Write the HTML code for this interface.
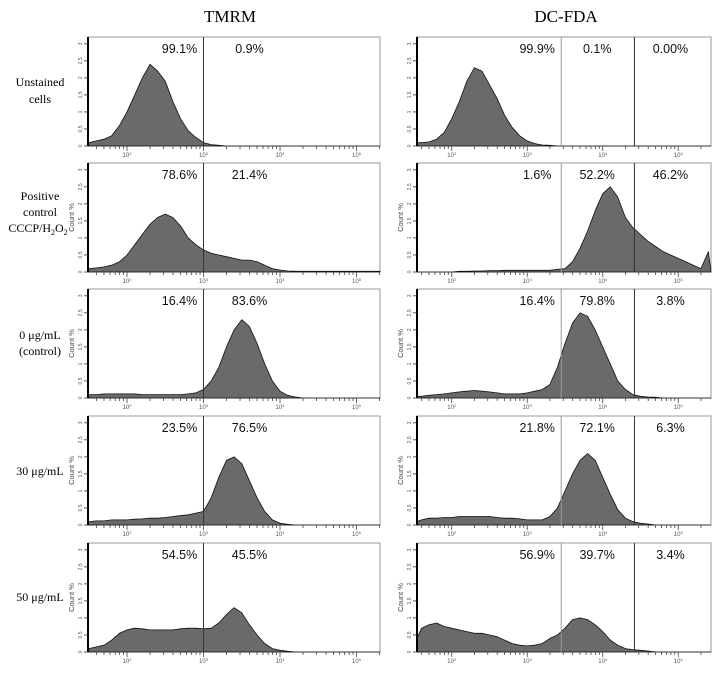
<!DOCTYPE html>
<html><head><meta charset="utf-8"><style>
html,body{margin:0;padding:0;background:#fff;}
svg{display:block;}
</style></head><body>
<svg id="fig" width="715" height="675" viewBox="0 0 715 675" xmlns="http://www.w3.org/2000/svg">
<text x="230" y="22" text-anchor="middle" font-family="Liberation Serif, serif" font-size="17">TMRM</text>
<text x="566" y="22" text-anchor="middle" font-family="Liberation Serif, serif" font-size="17">DC-FDA</text>
<g font-family="Liberation Serif, serif" font-size="12" text-anchor="middle">
<text x="40" y="86">Unstained</text>
<text x="40" y="103">cells</text>
<text x="40" y="200">Positive</text>
<text x="40" y="216">control</text>
<text x="38" y="232">CCCP/H<tspan font-size="8" dy="3">2</tspan><tspan dy="-3">O</tspan><tspan font-size="8" dy="3">2</tspan></text>
<text x="40" y="339">0 μg/mL</text>
<text x="40" y="355">(control)</text>
<text x="40" y="475">30 μg/mL</text>
<text x="40" y="601">50 μg/mL</text>
</g>
</svg>
<script>
// bins: log10 fluorescence from 1.5 to 5.4, step 0.1
const binStart = 1.5, binStep = 0.1;
const tmrmUnstained = [0.1,0.15,0.2,0.3,0.6,1.0,1.5,2.0,2.4,2.2,1.9,1.3,0.8,0.45,0.25,0.1,0.04,0.02,0,0,0,0,0,0,0,0,0,0,0,0,0,0,0,0,0,0,0,0,0,0];
const tmrmPositive = [0.1,0.12,0.15,0.2,0.3,0.5,0.8,1.1,1.4,1.6,1.7,1.6,1.35,1.0,0.8,0.65,0.55,0.5,0.45,0.4,0.35,0.35,0.3,0.2,0.1,0.06,0.03,0.02,0.02,0.02,0.02,0.02,0.02,0.02,0.02,0.02,0.02,0.02,0.02,0.02];
const tmrmControl = [0.1,0.1,0.12,0.12,0.12,0.12,0.12,0.1,0.1,0.1,0.1,0.1,0.1,0.12,0.15,0.25,0.5,0.9,1.5,2.0,2.3,2.1,1.6,1.0,0.5,0.2,0.08,0.03,0,0,0,0,0,0,0,0,0,0,0,0];
const tmrm30 = [0.1,0.12,0.12,0.15,0.15,0.15,0.17,0.18,0.2,0.2,0.22,0.25,0.28,0.3,0.35,0.4,0.8,1.4,1.9,2.0,1.8,1.3,0.8,0.4,0.15,0.05,0.02,0,0,0,0,0,0,0,0,0,0,0,0,0];
const tmrm50 = [0.1,0.15,0.2,0.35,0.55,0.65,0.7,0.68,0.65,0.65,0.65,0.65,0.68,0.7,0.7,0.68,0.7,0.85,1.1,1.3,1.15,0.8,0.5,0.25,0.1,0.05,0.02,0,0,0,0,0,0,0,0,0,0,0,0,0];
const dcUnstained = [0.1,0.1,0.12,0.2,0.4,0.8,1.3,1.9,2.3,2.2,1.8,1.4,0.9,0.55,0.3,0.15,0.07,0.03,0.02,0,0,0,0,0,0,0,0,0,0,0,0,0,0,0,0,0,0,0,0,0];
const dcPositive = [0,0,0,0,0,0,0.02,0.02,0.03,0.03,0.04,0.04,0.05,0.05,0.05,0.05,0.05,0.05,0.05,0.08,0.1,0.3,0.7,1.2,1.8,2.3,2.5,2.2,1.6,1.3,1.1,0.9,0.75,0.6,0.5,0.4,0.3,0.2,0.1,0.6];
const dcControl = [0.05,0.05,0.08,0.1,0.12,0.15,0.18,0.2,0.22,0.2,0.18,0.15,0.12,0.12,0.12,0.15,0.2,0.25,0.4,0.9,1.6,2.2,2.5,2.4,2.0,1.5,1.0,0.5,0.25,0.1,0.05,0.03,0.02,0,0,0,0,0,0,0];
const dc30 = [0.1,0.15,0.2,0.2,0.22,0.22,0.25,0.25,0.25,0.25,0.25,0.22,0.2,0.2,0.18,0.15,0.15,0.15,0.25,0.5,1.0,1.5,1.9,2.1,1.9,1.4,0.9,0.45,0.2,0.1,0.05,0.03,0,0,0,0,0,0,0,0];
const dc50 = [0.4,0.7,0.8,0.85,0.75,0.7,0.65,0.6,0.55,0.55,0.5,0.45,0.35,0.25,0.2,0.18,0.2,0.25,0.4,0.5,0.7,0.95,1.0,0.95,0.8,0.6,0.35,0.2,0.1,0.07,0.05,0.03,0,0,0,0,0,0,0,0];
const tmrmSeries = [tmrmUnstained, tmrmPositive, tmrmControl, tmrm30, tmrm50];
const dcSeries = [dcUnstained, dcPositive, dcControl, dc30, dc50];
const tmrmLabels = [["99.1%","0.9%"],["78.6%","21.4%"],["16.4%","83.6%"],["23.5%","76.5%"],["54.5%","45.5%"]];
const dcLabels = [["99.9%","0.1%","0.00%"],["1.6%","52.2%","46.2%"],["16.4%","79.8%","3.8%"],["21.8%","72.1%","6.3%"],["56.9%","39.7%","3.4%"]];
const tmrmGates = [3.0];
const dcGates = [3.45, 4.42];
const yTicks = [0,0.5,1,1.5,2,2.5,3];
const xDecades = [2,3,4,5];

const NS = "http://www.w3.org/2000/svg";
const svg = document.getElementById('fig');
function mk(tag, attrs, parent){const e=document.createElementNS(NS,tag);for(const k in attrs)e.setAttribute(k,attrs[k]);(parent||svg).appendChild(e);return e;}

const rowTops = [37,163,289,416,543];
const H = 109, yMax = 3.2;
const panels = [
  {x0:88, x1:380, logMin:1.49, pxPerDec:76.5, series:tmrmSeries, labels:tmrmLabels, gates:tmrmGates, name:'tmrm'},
  {x0:417, x1:711, logMin:1.54, pxPerDec:75.5, series:dcSeries, labels:dcLabels, gates:dcGates, name:'dcfda'}
];

panels.forEach(p=>{
  const xs = v => p.x0 + (v - p.logMin)*p.pxPerDec;
  const logMax = p.logMin + (p.x1-p.x0)/p.pxPerDec;
  rowTops.forEach((top,r)=>{
    const base = top + H;
    const ys = v => base - v/yMax*H;
    const g = mk('g',{});
    
    
    const fr = mk('rect',{x:p.x0,y:top,width:p.x1-p.x0,height:H,fill:'none',stroke:'#9a9a9a','stroke-width':1},g);
    
    
    const data = p.series[r];
    let d = 'M'+p.x0+','+base;
    data.forEach((v,i)=>{
      let lv = binStart + i*binStep;
      if (lv > logMax) lv = logMax;
      d += ' L'+xs(Math.max(lv,p.logMin)).toFixed(1)+','+ys(v).toFixed(1);
    });
    d += ' L'+p.x1+','+base+' Z';
    const h = mk('path',{d:d,fill:'#6a6a6a',stroke:'#111','stroke-width':0.8,'stroke-linejoin':'round'},g);
    
    
    p.gates.forEach((gv,gi)=>{
      const gl = mk('line',{x1:xs(gv),x2:xs(gv),y1:top,y2:base,stroke: p.name==='dcfda'&&gi===0?'#999':'#333','stroke-width':1},g);
      
      
    });
    p.labels[r].forEach((t,li)=>{
      let cx;
      if (li===0) cx = xs(p.gates[0]) - 24;
      else if (p.name==='tmrm') cx = xs(p.gates[0]) + 46;
      else cx = xs(p.gates[li-1]) + 36;
      const tx = mk('text',{x:cx,y:top+16,'text-anchor':'middle','font-family':'Liberation Sans, sans-serif','font-size':12.5,fill:'#111'},g);
      tx.textContent = t;
      
      
    });
    const ax = mk('line',{x1:p.x0,x2:p.x0,y1:top,y2:base,stroke:'#000','stroke-width':2},g);
    
    
    yTicks.forEach(t=>{
      const y = ys(t);
      const tk = mk('line',{x1:p.x0-4,x2:p.x0,y1:y,y2:y,stroke:'#333','stroke-width':0.8},g);
      
      
      const lb = mk('text',{x:p.x0-6,y:y,'font-family':'Liberation Sans, sans-serif','font-size':5,fill:'#555','text-anchor':'middle',transform:'rotate(-90 '+(p.x0-6)+' '+y+')'},g);
      lb.textContent = String(t).replace('.',',');
      
      
    });
    if (r>0){
      const cl = mk('text',{x:p.x0-14,y:top+H/2,'font-family':'Liberation Sans, sans-serif','font-size':7.5,fill:'#444','text-anchor':'middle',transform:'rotate(-90 '+(p.x0-14)+' '+(top+H/2)+')'},g);
      cl.textContent = 'Count %';
      
      
    }
    for (let dec=1; dec<=5; dec++){
      for (let m=1; m<=9; m++){
        const lv = dec + Math.log10(m);
        if (lv < p.logMin || lv > logMax) continue;
        const x = xs(lv);
        const tk = mk('line',{x1:x,x2:x,y1:base,y2:base+(m===1?5:3),stroke:'#444','stroke-width':0.8},g);
        
        
      }
    }
    xDecades.forEach(dv=>{
      const lb = mk('text',{x:xs(dv),y:base+11,'font-family':'Liberation Sans, sans-serif','font-size':6,fill:'#555','text-anchor':'middle'},g);
      lb.innerHTML = '10<tspan font-size="4" dy="-2">'+dv+'</tspan>';
      
      
    });
  });
});
</script>
</body></html>
